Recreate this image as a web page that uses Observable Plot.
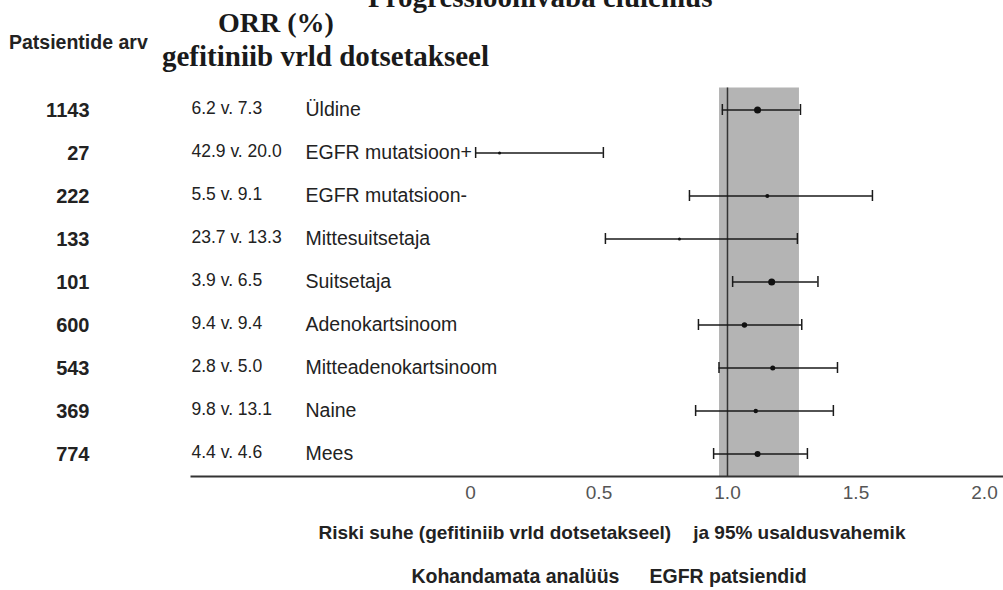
<!DOCTYPE html>
<html>
<head>
<meta charset="utf-8">
<script src="https://cdn.jsdelivr.net/npm/d3@7"></script>
<script src="https://cdn.jsdelivr.net/npm/@observablehq/plot@0.6"></script>
<style>
  html, body { margin: 0; padding: 0; background: #fff; }
  #page { position: relative; width: 1003px; height: 590px; overflow: hidden; background: #fff; }
  .t { position: absolute; white-space: nowrap; line-height: 1; color: #1a1a1a; }
  .serif { font-family: "Liberation Serif", "Times New Roman", serif; font-weight: bold; }
  .sans { font-family: "Liberation Sans", Arial, sans-serif; }
  .center { transform: translateX(-50%); }
  .gap1 { display: inline-block; width: 22px; }
  .gap2 { display: inline-block; width: 30px; }
  #chart { position: absolute; left: 0; top: 0; }
</style>
</head>
<body>
<div id="page">
  <div id="chart"></div>
  <div class="t serif" style="left:368px; top:-17px; font-size:29px;">Progressioonivaba elulemus</div>
  <div class="t serif" style="left:218px; top:9px; font-size:28px;">ORR (%)</div>
  <div class="t serif" style="left:162px; top:42px; font-size:29px;">gefitiniib vrld dotsetakseel</div>
  <div class="t sans" style="left:9px; top:33px; font-size:19.5px; font-weight:bold; color:#222;">Patsientide arv</div>
  <div class="t sans center" style="left:612px; top:523px; font-size:19px; font-weight:bold; color:#222;">Riski suhe (gefitiniib vrld dotsetakseel)<span class="gap1"></span>ja 95% usaldusvahemik</div>
  <div class="t sans center" style="left:609px; top:567px; font-size:19.5px; font-weight:bold; color:#222;">Kohandamata analüüs<span class="gap2"></span>EGFR patsiendid</div>
</div>
<script>
const categories = ["Üldine", "EGFR mutatsioon+", "EGFR mutatsioon-", "Mittesuitsetaja", "Suitsetaja", "Adenokartsinoom", "Mitteadenokartsinoom", "Naine", "Mees"];
const patients = [1143, 27, 222, 133, 101, 600, 543, 369, 774];
const orrText = ["6.2 v. 7.3", "42.9 v. 20.0", "5.5 v. 9.1", "23.7 v. 13.3", "3.9 v. 6.5", "9.4 v. 9.4", "2.8 v. 5.0", "9.8 v. 13.1", "4.4 v. 4.6"];
const hazardRatio = [1.117, 0.113, 1.155, 0.813, 1.172, 1.066, 1.176, 1.11, 1.117];
const ciLow = [0.98, 0.02, 0.852, 0.525, 1.02, 0.887, 0.967, 0.876, 0.946];
const ciHigh = [1.284, 0.517, 1.564, 1.272, 1.352, 1.289, 1.428, 1.412, 1.311];
const markerWeight = [3.5, 1.5, 2, 1.5, 3.5, 2.7, 2.5, 2.2, 3];
const shadedBand = [0.969, 1.28];
const referenceLine = [1];
const xTicks = [0, 0.5, 1, 1.5, 2];
const xTickLabels = ["0", "0.5", "1.0", "1.5", "2.0"];

const rows = categories.map((c, i) => ({
  cat: c, n: patients[i], orr: orrText[i], hr: hazardRatio[i], lo: ciLow[i], hi: ciHigh[i], w: markerWeight[i]
}));

const chart = Plot.plot({
  width: 1003,
  height: 516,
  marginTop: 87.5,
  marginBottom: 40,
  marginLeft: 191,
  marginRight: 0,
  style: { fontFamily: "'Liberation Sans', Arial, sans-serif", background: "transparent", overflow: "visible", color: "#1a1a1a" },
  x: { domain: [-1.0856, 2.074], axis: null },
  y: { domain: categories, axis: null, padding: 0 },
  r: { type: "identity" },
  marks: [
    Plot.rect([shadedBand], { x1: d => d[0], x2: d => d[1], fill: "#b4b4b4" }),
    Plot.ruleX(referenceLine, { stroke: "#333", strokeWidth: 1.5 }),
    Plot.ruleY(rows, { y: "cat", x1: "lo", x2: "hi", stroke: "#1a1a1a", strokeWidth: 1.4 }),
    Plot.tickX(rows, { x: "lo", y: "cat", stroke: "#1a1a1a", strokeWidth: 1.5, insetTop: 16, insetBottom: 16 }),
    Plot.tickX(rows, { x: "hi", y: "cat", stroke: "#1a1a1a", strokeWidth: 1.5, insetTop: 16, insetBottom: 16 }),
    Plot.dot(rows, { x: "hr", y: "cat", r: "w", fill: "#111", stroke: null }),
    Plot.text(rows, { y: "cat", text: d => String(d.n), frameAnchor: "left", textAnchor: "end", dx: -102, dy: 1, fontSize: 20, fontWeight: "bold", fill: "#222" }),
    Plot.text(rows, { y: "cat", text: "orr", frameAnchor: "left", textAnchor: "start", dx: 0, dy: -2, fontSize: 17.5, fill: "#222" }),
    Plot.text(rows, { y: "cat", text: "cat", frameAnchor: "left", textAnchor: "start", dx: 114, fontSize: 19.5, fill: "#222" }),
    Plot.frame({ anchor: "bottom", stroke: "#333", strokeWidth: 2 }),
    Plot.axisX(xTicks, { tickSize: 0, tickPadding: 9, fontSize: 19, color: "#555", tickFormat: d => xTickLabels[xTicks.indexOf(d)] })
  ]
});
document.getElementById("chart").appendChild(chart);
</script>
</body>
</html>
